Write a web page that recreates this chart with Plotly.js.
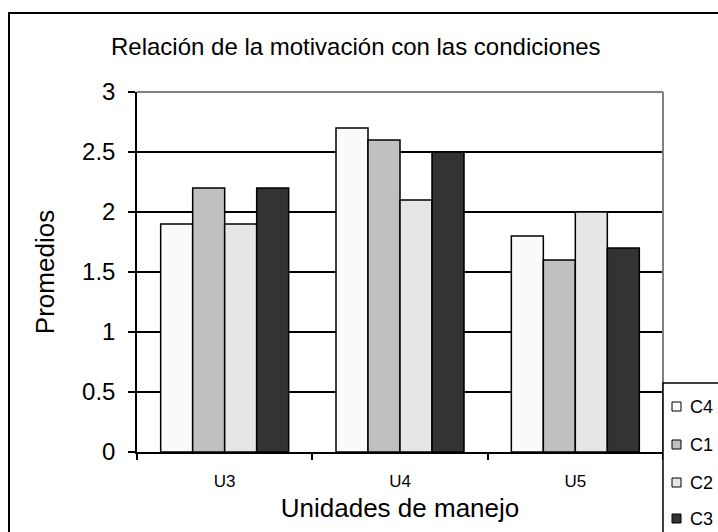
<!DOCTYPE html>
<html>
<head>
<meta charset="utf-8">
<script src="https://cdn.plot.ly/plotly-3.0.1.min.js"></script>
<style>
html, body { margin: 0; padding: 0; background: #ffffff; }
#chart { width: 718px; height: 532px; }
</style>
</head>
<body>
<div id="chart"></div>
<script>
const categories = ["U3", "U4", "U5"];
const seriesNames = ["C4", "C1", "C2", "C3"];
const valuesC4 = [1.9, 2.7, 1.8];
const valuesC1 = [2.2, 2.6, 1.6];
const valuesC2 = [1.9, 2.1, 2.0];
const valuesC3 = [2.2, 2.5, 1.7];
const yTickValues = [0, 0.5, 1, 1.5, 2, 2.5, 3];
const yTickLabels = ["0", "0.5", "1", "1.5", "2", "2.5", "3"];

const seriesValues = [valuesC4, valuesC1, valuesC2, valuesC3];
const fills = ["#fafafa", "#c0c0c0", "#e6e6e6", "#333333"];

const FONT = "Liberation Sans, Arial, sans-serif";

const traces = seriesNames.map((name, i) => ({
  type: "bar",
  name: name,
  x: categories,
  y: seriesValues[i],
  showlegend: false,
  marker: { color: fills[i], line: { color: "#000000", width: 1.5 } },
  hoverinfo: "x+y+name"
}));

// Legend (drawn beside the plot area, as in the reference)
const plotL = 137, plotR = 663, plotT = 92, plotB = 452;
const pw = plotR - plotL, ph = plotB - plotT;
const px = v => (v - plotL) / pw;
const py = v => (plotB - v) / ph;
const legendRows = [406.5, 444.5, 482.5, 518.5];

const shapes = [
  { type: "rect", xref: "paper", yref: "paper", x0: px(9), x1: 1.3, y0: -0.5, y1: py(13),
    line: { color: "#000000", width: 2 }, fillcolor: "rgba(0,0,0,0)", layer: "above" },
  { type: "line", xref: "paper", yref: "paper", x0: 0, x1: 1, y0: 1, y1: 1,
    line: { color: "#808080", width: 2 }, layer: "above" },
  { type: "line", xref: "paper", yref: "paper", x0: 1, x1: 1, y0: 0, y1: 1,
    line: { color: "#808080", width: 2 }, layer: "above" },
  { type: "rect", xref: "paper", yref: "paper", x0: px(663), x1: 1.3, y0: -0.5, y1: py(383),
    line: { color: "#000000", width: 1.5 }, fillcolor: "#ffffff", layer: "above" }
];
const annotations = [];
seriesNames.forEach((name, i) => {
  const cy = legendRows[i];
  shapes.push({ type: "rect", xref: "paper", yref: "paper",
    x0: px(672), x1: px(681), y0: py(cy + 4.5), y1: py(cy - 4.5),
    line: { color: "#000000", width: 1 }, fillcolor: fills[i], layer: "above" });
  annotations.push({ xref: "paper", yref: "paper", x: px(688), y: py(cy),
    xanchor: "left", yanchor: "middle", showarrow: false, text: name,
    font: { family: FONT, size: 18, color: "#000000" } });
});

const layout = {
  width: 718,
  height: 532,
  margin: { l: plotL, r: 718 - plotR, t: plotT, b: 532 - plotB, autoexpand: false },
  paper_bgcolor: "#ffffff",
  plot_bgcolor: "#ffffff",
  font: { family: FONT, color: "#000000" },
  title: {
    text: "Relación de la motivación con las condiciones",
    font: { family: FONT, size: 24, color: "#000000" },
    xref: "container", x: 111 / 718, xanchor: "left",
    yref: "container", y: 1 - 47 / 532, yanchor: "middle"
  },
  barmode: "group",
  bargap: 0.27,
  bargroupgap: 0,
  xaxis: {
    type: "category",
    showline: true, linecolor: "#000000", linewidth: 1.5,
    ticks: "outside", tickson: "boundaries", ticklen: 6, tickcolor: "#000000", tickwidth: 1.5,
    tickfont: { family: FONT, size: 17, color: "#000000" },
    ticklabelstandoff: 13,
    showgrid: false,
    title: { text: "Unidades de manejo", font: { family: FONT, size: 26, color: "#000000" }, standoff: 9 }
  },
  yaxis: {
    range: [0, 3],
    tickvals: yTickValues,
    ticktext: yTickLabels,
    showline: true, linecolor: "#000000", linewidth: 1.5,
    ticks: "outside", ticklen: 7, tickcolor: "#000000", tickwidth: 1.5,
    tickfont: { family: FONT, size: 24, color: "#000000" },
    ticklabelstandoff: 8,
    showgrid: true, gridcolor: "#000000", gridwidth: 1.5,
    zeroline: false,
    title: { text: "Promedios", font: { family: FONT, size: 26, color: "#000000" }, standoff: 20 }
  },
  showlegend: false,
  shapes: shapes,
  annotations: annotations
};

Plotly.newPlot("chart", traces, layout, { displayModeBar: false, responsive: false });
</script>
</body>
</html>
